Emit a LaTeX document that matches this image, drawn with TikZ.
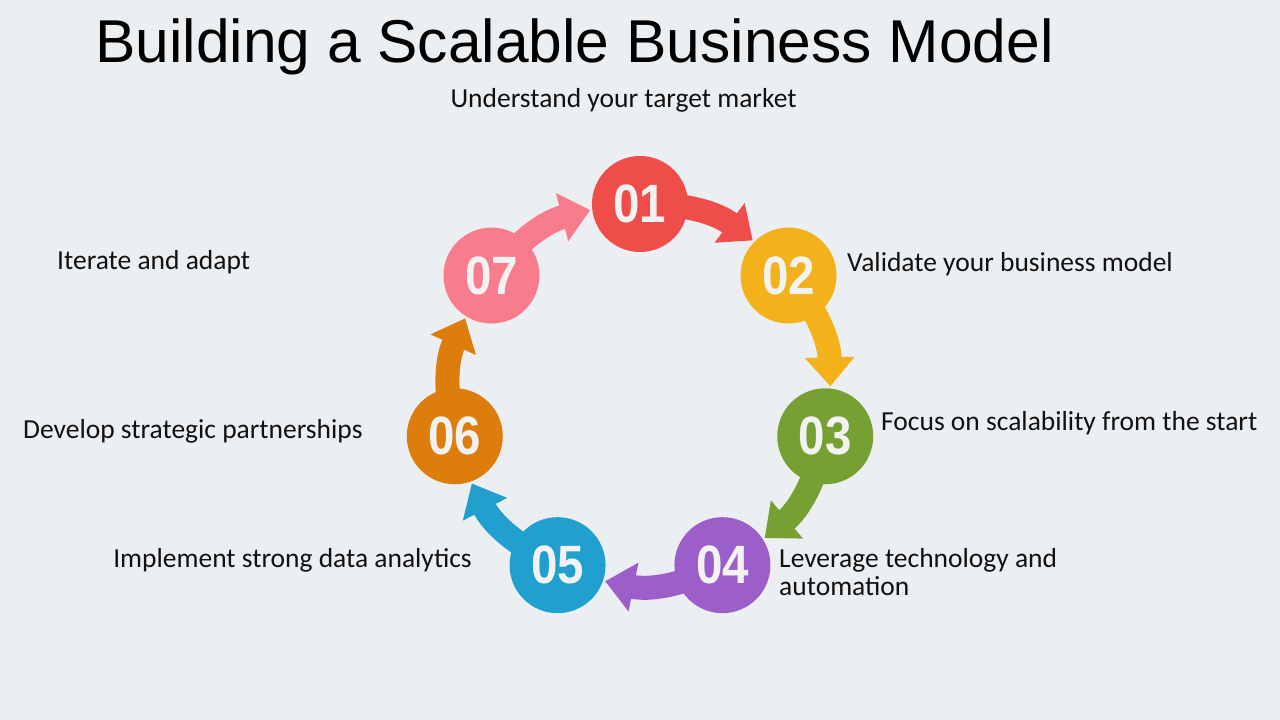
\documentclass[tikz,border=0pt]{standalone}
\usepackage{fontspec}
\setmainfont{Carlito}
\newfontfamily\titlefont{Liberation Sans}
\newfontfamily\numfont{Liberation Sans}
\usetikzlibrary{arrows.meta,backgrounds}
\definecolor{bgcol}{HTML}{ECEFF2}
\definecolor{colA}{HTML}{EF4D4A}
\definecolor{colB}{HTML}{F3B11B}
\definecolor{colC}{HTML}{77A033}
\definecolor{colD}{HTML}{9C5EC9}
\definecolor{colE}{HTML}{21A0CF}
\definecolor{colF}{HTML}{DC7D0C}
\definecolor{colG}{HTML}{F97C8C}
\definecolor{txtcol}{HTML}{111111}
\begin{document}
\begin{tikzpicture}[x=1pt,y=1pt,
  stepcirc/.style={circle,fill=#1,minimum size=96pt,inner sep=0pt,text=white!95!black,
    font=\numfont\bfseries\fontsize{54}{54}\selectfont},
  flow/.style={line width=24pt,draw=#1,-{Triangle[length=29pt,width=48pt]},shorten >=2pt},
  lbl/.style={inner sep=0pt,text=txtcol,font=\fontsize{27.5}{28}\selectfont}
]
\useasboundingbox (0,0) rectangle (1280,720);
\coordinate (ctr) at (640,326);

% step circles
\node[stepcirc=colA] (c1) at ([shift={(90:190)}]ctr) {\scalebox{0.88}[1]{01}};
\node[stepcirc=colB] (c2) at ([shift={(38.571:190)}]ctr) {\scalebox{0.88}[1]{02}};
\node[stepcirc=colC] (c3) at ([shift={(-12.857:190)}]ctr) {\scalebox{0.88}[1]{03}};
\node[stepcirc=colD] (c4) at ([shift={(-64.286:190)}]ctr) {\scalebox{0.88}[1]{04}};
\node[stepcirc=colE] (c5) at ([shift={(-115.714:190)}]ctr) {\scalebox{0.88}[1]{05}};
\node[stepcirc=colF] (c6) at ([shift={(-167.143:190)}]ctr) {\scalebox{0.88}[1]{06}};
\node[stepcirc=colG] (c7) at ([shift={(141.429:190)}]ctr) {\scalebox{0.88}[1]{07}};

\begin{pgfonlayer}{background}
  \fill[bgcol] (0,0) rectangle (1280,720);
  \draw[flow=colA] (c1.center) to[bend left=19] (c2);
  \draw[flow=colB] (c2.center) to[bend left=19] (c3);
  \draw[flow=colC] (c3.center) to[bend left=19] (c4);
  \draw[flow=colD] (c4.center) to[bend left=19] (c5);
  \draw[flow=colE] (c5.center) to[bend left=19] (c6);
  \draw[flow=colF] (c6.center) to[bend left=19] (c7);
  \draw[flow=colG] (c7.center) to[bend left=19] (c1);
\end{pgfonlayer}

% title
\node[inner sep=0pt,anchor=base west,text=black,font=\titlefont\fontsize{60.5}{61}\selectfont]
  (title) at (95,657) {Building a Scalable Business Model};

% labels
\node[lbl,anchor=base] (l1) at (623.5,612) {Understand your target market};
\node[lbl,anchor=base west] (l2) at (847,448) {Validate your business model};
\node[lbl,anchor=base west] (l3) at (881,289) {Focus on scalability from the start};
\node[lbl,anchor=base west,align=left] (l4) at (779,124) {Leverage technology and\\automation};
\node[lbl,anchor=base east] (l5) at (472,152) {Implement strong data analytics};
\node[lbl,anchor=base west] (l6) at (23,281) {Develop strategic partnerships};
\node[lbl,anchor=base west] (l7) at (57,450) {Iterate and adapt};
\end{tikzpicture}
\end{document}
